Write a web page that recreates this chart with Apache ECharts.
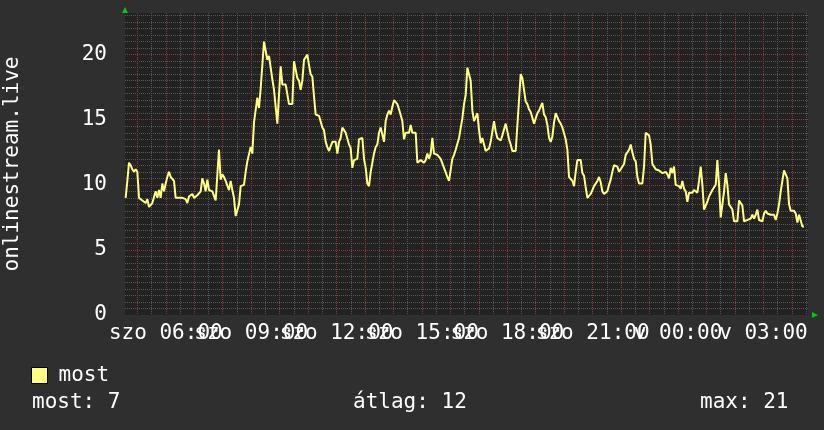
<!DOCTYPE html>
<html><head><meta charset="utf-8">
<script src="https://cdn.jsdelivr.net/npm/echarts@6/dist/echarts.min.js"></script>
<style>html,body{margin:0;padding:0;background:#2f2f2f;}#c{width:824px;height:430px;}</style>
</head><body><div id="c"></div>
<script>
// time axis in hours since Saturday 00:00
var X_MIN = 4.5667, X_MAX = 28.5667;
var DATA_START = 4.590, DATA_STEP = 0.05857; // hours between samples
var Y_MAX = 23.2;
var labelHoursA = [6, 12, 18, 24];
var labelHoursB = [9, 15, 21, 27];
var dayNames = ['szo', 'v'];
var seriesName = 'most';
var stats = [['most', 7], ['átlag', 12], ['max', 21]];

var mostA = [9.0,10.3,11.7,11.5,11.2,11.0,11.2,11.0,9.0,9.0,8.8,8.7,8.6,8.9,8.3,8.2,8.6,8.7,9.5,9.0,9.6,9.0,10.1,9.5,10.1,10.6,11.0,10.6,10.5,10.3,9.0,9.0,9.0,9.0,9.0,9.0,8.9,8.6,9.1,9.1,9.3,9.0,9.0,9.2,9.1,9.5,10.5,10.1,9.5,10.4,9.6,9.6,9.5,9.6,8.8,8.7,12.7,10.4,10.8,10.6,10.3,10.4,9.6,10.3,9.6,9.0,7.6,7.6,8.5,9.9,9.9,10.0,11.0,11.8,11.9,12.9,12.4,14.8,14.9,16.7,15.9,17.4,17.5,21.0,20.3,19.6,19.9,19.0,18.1,17.3,17.3,14.7,14.7,19.1,17.7,17.6,17.7,17.6,16.2,16.2,16.2,19.5];
var mostB = [19.6,18.2,18.0,17.3,18.0,19.6,19.8,20.0,19.2,18.5,18.3,16.8,15.4,15.3,15.3,15.3,14.4,14.2,13.3,12.9,12.6,12.6,13.3,13.2,13.3,12.4,13.3,13.6,14.4,14.2,14.0,14.0,13.1,12.8,11.3,11.9,12.0,12.0,13.5,13.6,13.6,12.0,11.3,10.1,9.9,11.0,11.7,12.4,12.9,13.1,14.0,14.4,14.4,13.3,14.9,15.4,15.7,15.4,16.0,16.5,16.5,16.2,15.8,15.8,14.9,13.5,14.0,14.0,14.0,14.6,14.0,14.0,14.0,11.7,11.7,11.9,11.9,11.7,11.9,12.4,12.0,12.4,13.6,12.4,12.4,12.3,12.3,12.0,11.9,11.3,11.3,10.6,10.3,10.3,12.0,12.3,12.7,12.7,13.6,13.6,15.1,16.2,16.9];
var mostC = [19.0,19.0,18.0,15.7,14.9,14.9,15.5,14.2,13.2,13.6,13.6,12.6,12.7,12.8,13.3,14.1,14.9,14.1,13.6,13.6,13.4,13.8,13.8,14.7,14.7,13.5,13.1,12.6,12.6,12.6,12.6,16.5,18.5,18.2,17.3,16.4,16.2,15.8,15.6,15.7,14.7,14.6,15.5,15.7,16.0,16.3,15.4,15.2,14.6,13.6,13.3,13.7,14.8,15.5,15.2,14.9,14.7,14.4,14.3,13.5,12.7,10.6,10.6,10.3,9.9,11.0,11.9,11.9,11.9,10.9,10.7,9.8,9.0,9.1,9.3,9.6,9.9,9.9,10.3,10.6,10.2,9.5,9.3,9.2,9.5,10.0,10.4,11.0,11.5,11.5,11.4,11.0,11.2,11.3,11.6,12.3,12.3,12.7,13.1,12.5,12.0,11.8];
var mostD = [10.6,10.1,10.1,10.1,11.4,14.0,14.1,13.8,13.1,11.6,11.4,11.2,11.2,11.1,11.1,10.9,10.8,11.0,10.8,10.5,11.3,10.9,11.4,10.0,10.0,9.9,9.7,10.3,9.7,9.5,8.7,9.4,9.4,9.4,9.6,9.7,9.4,10.3,11.4,10.0,8.1,8.1,8.7,9.1,9.1,9.6,9.7,10.0,11.9,10.0,7.5,7.5,9.5,10.9,10.0,8.5,8.4,8.1,7.2,7.2,7.2,8.8,8.8,8.4,7.2,7.2,7.3,7.4,7.4,7.7,7.4,7.7,8.1,7.3,7.4,7.2,7.8,8.0,7.8,7.8,7.7,7.7,7.7,7.3,7.8,8.5,9.5,10.3,11.1,10.8,10.5,8.5,8.0,8.0,8.0,7.8,7.1,7.7,7.7,6.8,6.8];

var mostValues = mostA.concat(mostB, mostC, mostD);
var seriesData = mostValues.map(function (v, i) { return [DATA_START + i * DATA_STEP, v]; });

// grid line positions: minor every half hour / 0.5 unit, major every hour / 5 units
var minorX = [], majorX = [], minorY = [], majorY = [];
for (var h = 5; h <= 28.5; h += 0.5) { if (h % 1 === 0) majorX.push(h); else minorX.push(h); }
for (var y = 0.5; y <= Y_MAX; y += 0.5) { if (y % 5 === 0) majorY.push(y); else minorY.push(y); }

var FONT = 'DejaVu Sans Mono';
var FS = 21;
var LINE = '#ffff80';
var GRID_MINOR = '#585858';
var GRID_MAJOR = '#8a3838';

function fmtHour(v) {
  var d = v >= 24 ? 1 : 0;
  var hh = Math.round(v) % 24;
  return dayNames[d] + ' ' + (hh < 10 ? '0' : '') + hh + ':00';
}
function labelAxis(vals, split) {
  return {
    type: 'value', min: X_MIN, max: X_MAX, position: 'bottom',
    axisLine: {show: false},
    axisTick: {show: false, customValues: split ? majorX : vals},
    axisLabel: {customValues: vals, color: '#fff', fontFamily: FONT, fontSize: FS, margin: 8,
                formatter: fmtHour, hideOverlap: false},
    splitLine: {show: split, lineStyle: {color: GRID_MAJOR, type: [1, 1], width: 1}}
  };
}

var chart = echarts.init(document.getElementById('c'), null, {renderer: 'canvas'});
chart.setOption({
  backgroundColor: '#2f2f2f',
  animation: false,
  grid: {left: 125, right: 16, top: 13, bottom: 115, show: true, backgroundColor: '#222222', borderWidth: 0,
         containLabel: false, outerBoundsMode: 'none'},
  legend: {
    left: 31, top: 365, padding: 0, itemWidth: 16, itemHeight: 16, icon: 'rect',
    itemStyle: {borderColor: '#000', borderWidth: 1},
    textStyle: {color: '#fff', fontFamily: FONT, fontSize: FS, padding: [0, 0, 0, 6]},
    data: [{name: seriesName, itemStyle: {color: LINE}}]
  },
  xAxis: [{
    type: 'value', min: X_MIN, max: X_MAX,
    axisLine: {show: false}, axisLabel: {show: false},
    axisTick: {show: false, customValues: minorX},
    splitLine: {show: true, lineStyle: {color: GRID_MINOR, type: [1, 1], width: 1}}
  }, labelAxis(labelHoursA, true), labelAxis(labelHoursB, false)],
  yAxis: [{
    type: 'value', min: 0, max: Y_MAX,
    axisLine: {show: false}, axisLabel: {show: false},
    axisTick: {show: false, customValues: minorY},
    splitLine: {show: true, lineStyle: {color: GRID_MINOR, type: [1, 1], width: 1}}
  }, {
    type: 'value', min: 0, max: Y_MAX, position: 'left',
    axisLine: {show: false},
    axisTick: {show: false, customValues: majorY},
    axisLabel: {customValues: [0].concat(majorY), color: '#fff', fontFamily: FONT, fontSize: FS, margin: 18, padding: [4, 0, 0, 0]},
    splitLine: {show: true, lineStyle: {color: GRID_MAJOR, type: [1, 1], width: 1}},
    name: 'onlinestream.live', nameLocation: 'middle', nameGap: 102, nameRotate: 90,
    nameTextStyle: {color: '#fff', fontFamily: FONT, fontSize: FS}
  }],
  series: [{
    name: seriesName, type: 'line', xAxisIndex: 0, yAxisIndex: 0,
    data: seriesData, showSymbol: false, symbol: 'none',
    lineStyle: {color: LINE, width: 2}, itemStyle: {color: LINE}
  }],
  graphic: [
    {type: 'polygon', shape: {points: [[122, 13], [128, 13], [125, 7]]}, style: {fill: '#00cc00'}},
    {type: 'polygon', shape: {points: [[812, 312], [812, 318], [818, 315]]}, style: {fill: '#00cc00'}},
    {type: 'text', left: 32, top: 392, style: {text: stats[0][0] + ': ' + stats[0][1], fill: '#fff', font: FS + 'px "DejaVu Sans Mono"'}},
    {type: 'text', left: 353, top: 392, style: {text: stats[1][0] + ': ' + stats[1][1], fill: '#fff', font: FS + 'px "DejaVu Sans Mono"'}},
    {type: 'text', left: 700, top: 392, style: {text: stats[2][0] + ': ' + stats[2][1], fill: '#fff', font: FS + 'px "DejaVu Sans Mono"'}}
  ]
});
</script></body></html>
